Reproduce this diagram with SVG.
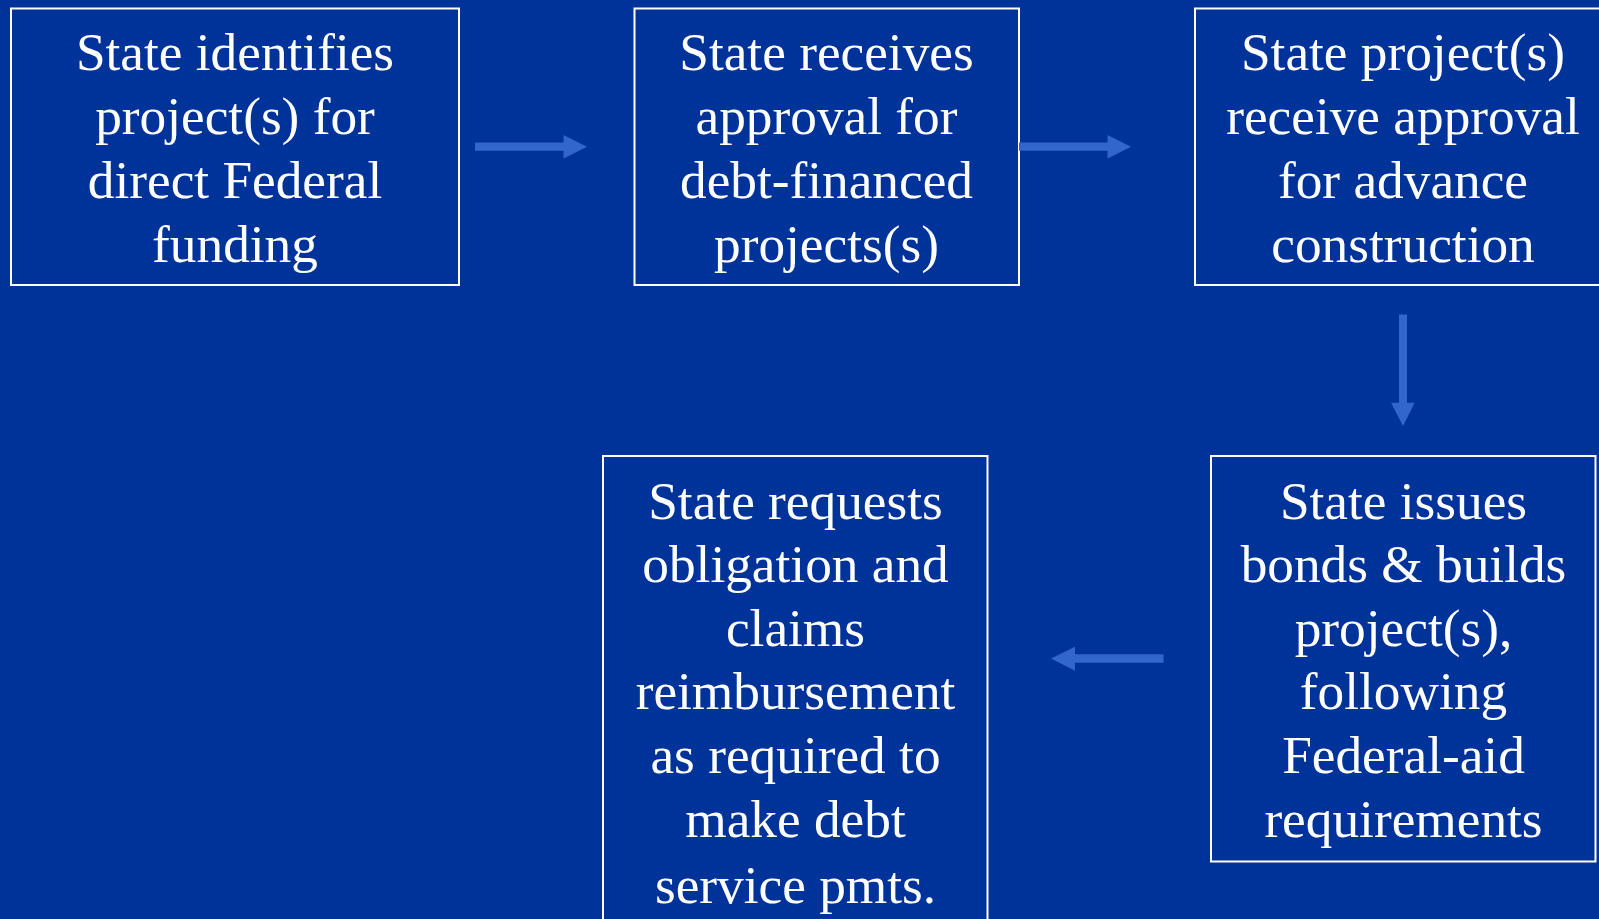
<svg xmlns="http://www.w3.org/2000/svg" width="1599" height="919" viewBox="0 0 1599 919">
<style>
.box{fill:none;stroke:#ffffff;stroke-width:2}
.t{font-family:"Liberation Serif","Times New Roman",serif;font-size:53.3px;fill:#ffffff;text-anchor:middle}
.arr{fill:#3366cc}
</style>
<rect x="0" y="0" width="1599" height="919" fill="#003399"/>
<g id="node1">
<rect class="box" x="11" y="8.5" width="448" height="276.5"/>
<text class="t" x="235" y="70">State identifies</text>
<text class="t" x="235" y="133.5">project(s) for</text>
<text class="t" x="235" y="197.5">direct Federal</text>
<text class="t" x="235" y="261.5">funding</text>
</g>
<g id="node2">
<rect class="box" x="634.5" y="8.5" width="384.5" height="276.5"/>
<text class="t" x="826.5" y="70">State receives</text>
<text class="t" x="826.5" y="133.5">approval for</text>
<text class="t" x="826.5" y="197.5">debt-financed</text>
<text class="t" x="826.5" y="261.5">projects(s)</text>
</g>
<g id="node3">
<rect class="box" x="1195" y="8.5" width="416" height="276.5"/>
<text class="t" x="1403" y="70">State project(s)</text>
<text class="t" x="1403" y="133.5">receive approval</text>
<text class="t" x="1403" y="197.5">for advance</text>
<text class="t" x="1403" y="261.5">construction</text>
</g>
<g id="node4">
<rect class="box" x="1211" y="456" width="384.5" height="405.5"/>
<text class="t" x="1403.5" y="518.5">State issues</text>
<text class="t" x="1403.5" y="582">bonds &amp; builds</text>
<text class="t" x="1403.5" y="645.5">project(s),</text>
<text class="t" x="1403.5" y="709">following</text>
<text class="t" x="1403.5" y="773">Federal-aid</text>
<text class="t" x="1403.5" y="837">requirements</text>
</g>
<g id="node5">
<rect class="box" x="603" y="456" width="384.5" height="480"/>
<text class="t" x="795.5" y="519">State requests</text>
<text class="t" x="795.5" y="582">obligation and</text>
<text class="t" x="795.5" y="645.5">claims</text>
<text class="t" x="795.5" y="709">reimbursement</text>
<text class="t" x="795.5" y="773">as required to</text>
<text class="t" x="795.5" y="837">make debt</text>
<text class="t" x="795.5" y="902.5">service pmts.</text>
</g>
<g id="connectors">
<polygon class="arr" points="475,142.5 563.5,142.5 563.5,135 587,146.7 563.5,158.5 563.5,150.7 475,150.7"/>
<polygon class="arr" points="1019,142.5 1107.5,142.5 1107.5,135 1131,146.7 1107.5,158.5 1107.5,150.7 1019,150.7"/>
<polygon class="arr" points="1399,314.5 1407,314.5 1407,402.7 1414.7,402.7 1403,426 1391,402.7 1399,402.7"/>
<polygon class="arr" points="1163.5,654.3 1075,654.3 1075,646.7 1051,658.5 1075,670.7 1075,662.7 1163.5,662.7"/>
</g>
</svg>
